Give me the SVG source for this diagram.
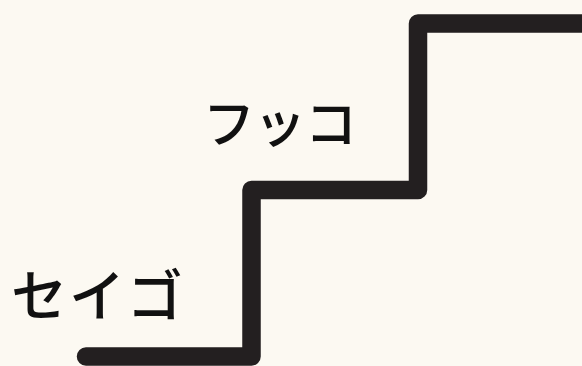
<svg xmlns="http://www.w3.org/2000/svg" width="582" height="366" viewBox="0 0 582 366">
<style>
.lbl{font-family:"Noto Sans CJK JP","Noto Sans",sans-serif;fill:#111;font-weight:500}
.step{fill:none;stroke:#231f20;stroke-width:18.5;stroke-linejoin:round;stroke-linecap:round}
</style>
<rect width="582" height="366" fill="#fcf9f2"/>
<g id="connectors">
<path class="step" d="M86 356.5 H251.5 V190 H418 V23.5 H600"/>
</g>
<g id="fukko"><text class="lbl" x="203" y="143" font-size="52" letter-spacing="-1">フッコ</text></g>
<g id="seigo"><text class="lbl" x="11" y="316" font-size="56" letter-spacing="2">セイゴ</text></g>
</svg>
